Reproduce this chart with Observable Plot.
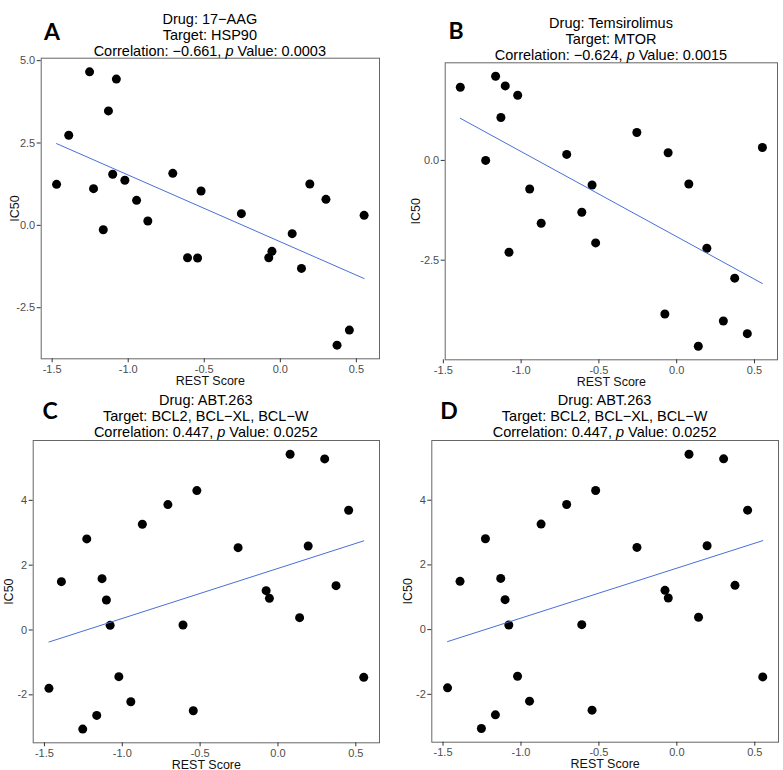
<!DOCTYPE html>
<html>
<head>
<meta charset="utf-8">
<script src="https://cdn.jsdelivr.net/npm/d3@7"></script>
<script src="https://cdn.jsdelivr.net/npm/@observablehq/plot@0.6"></script>
<style>
  html, body { margin: 0; padding: 0; background: #fff; }
  #root { position: relative; width: 783px; height: 770px; overflow: hidden; background: #fff; font-family: "Liberation Sans", Arial, sans-serif; }
  .title { position: absolute; width: 420px; text-align: center; font-size: 14.5px; line-height: 16px; color: #000; white-space: nowrap; }
  .letter { position: absolute; font-family: Lato, "Open Sans", sans-serif; font-weight: 700; font-size: 23px; line-height: 23px; color: #000; transform: translate(-50%, -50%); }
  .panel { position: absolute; }
</style>
</head>
<body>
<div id="root"></div>
<script>
// REST score of each cell line (shared x values)
const restScore = [-1.471, -1.391, -1.254, -1.228, -1.164, -1.130, -1.102, -1.078, -1.022, -0.945,
  -0.871, -0.707, -0.610, -0.544, -0.521, -0.256, -0.076, -0.055, 0.078, 0.139,
  0.194, 0.300, 0.373, 0.454, 0.551];

// IC50 values per drug (null = cell line not tested)
const ic50_17AAG = [1.246, 2.736, 4.66, 1.114, -0.132, 3.475, 1.55, 4.44, 1.368, 0.76,
  0.132, 1.58, -0.983, -0.993, 1.044, 0.355, -0.983, -0.79, -0.253, -1.307,
  1.256, 0.79, -3.637, -3.18, 0.304];
const ic50_Temsirolimus = [null, 1.833, null, 0.0, 2.108, 1.075, 1.867, -2.3, 1.633, -0.717,
  -1.575, 0.15, -1.3, -0.617, -2.067, 0.7, -3.85, 0.192, -0.592, -4.658,
  -2.2, -4.025, -2.95, -4.342, 0.325];
const ic50_ABT263 = [-1.80, 1.492, -3.056, 2.809, -2.634, 1.584, 0.926, 0.144, -1.44, -2.212,
  3.261, 3.868, 0.154, -2.49, 4.30, 2.541, 1.214, 0.977, 5.422, 0.381,
  2.593, 5.278, 1.368, 3.693, -1.461];

// Panel texts
const panelLetters = ["A", "B", "C", "D"];
const drugs = ["17\u2212AAG", "Temsirolimus", "ABT.263", "ABT.263"];
const targets = ["HSP90", "MTOR", "BCL2, BCL\u2212XL, BCL\u2212W", "BCL2, BCL\u2212XL, BCL\u2212W"];
const correlations = ["\u22120.661", "\u22120.624", "0.447", "0.447"];
const pValues = ["0.0003", "0.0015", "0.0252", "0.0252"];
const seriesList = [ic50_17AAG, ic50_Temsirolimus, ic50_ABT263, ic50_ABT263];

// Tick labels
const xTicks = [-1.5, -1.0, -0.5, 0.0, 0.5];
const yTicksA = [-2.5, 0.0, 2.5, 5.0];
const yTicksB = [-2.5, 0.0];
const yTicksC = [-2, 0, 2, 4];
const yTicksList = [yTicksA, yTicksB, yTicksC, yTicksC];
const yDecimals = [1, 1, 0, 0];

// Layout (page pixels)
const layout = [
  {left: 0,   width: 392, top: 54,  bottom: 388, mL: 40.7, mR: 13, mT: 3.7, mB: 29.7, xLab: 26,   yLab: 31,   letter: [52, 31],   title: [209.8, 10.5]},
  {left: 392, width: 391, top: 58,  bottom: 388, mL: 52.7, mR: 6,  mT: 4.3, mB: 28.7, xLab: 25.7, yLab: 34,   letter: [456, 30], title: [611, 15]},
  {left: 0,   width: 392, top: 436, bottom: 770, mL: 32.7, mR: 13, mT: 4,   mB: 27.7, xLab: 25.7, yLab: 28.7, letter: [50, 410],  title: [205.8, 392]},
  {left: 392, width: 391, top: 436, bottom: 770, mL: 39.3, mR: 5,  mT: 4,   mB: 28.3, xLab: 25.5, yLab: 28.6, letter: [449, 409.5], title: [604.6, 392]}
];

const root = document.getElementById("root");

seriesList.forEach((series, k) => {
  const L = layout[k];
  const data = restScore.map((x, i) => ({x, y: series[i]})).filter(d => d.y != null);
  const [x0, x1] = d3.extent(data, d => d.x);
  const [y0, y1] = d3.extent(data, d => d.y);
  const ex = (x1 - x0) * 0.05, ey = (y1 - y0) * 0.05;
  const dec = yDecimals[k];

  const chart = Plot.plot({
    width: L.width,
    height: L.bottom - L.top,
    marginLeft: L.mL, marginRight: L.mR, marginTop: L.mT, marginBottom: L.mB,
    x: {domain: [x0 - ex, x1 + ex]},
    y: {domain: [y0 - ey, y1 + ey]},
    style: {fontFamily: "'Liberation Sans', Arial, sans-serif", background: "white", overflow: "visible"},
    marks: [
      Plot.frame({stroke: "#666", strokeWidth: 1}),
      Plot.axisX({ticks: xTicks, tickSize: 4, tickPadding: 2, tickFormat: d => d.toFixed(1), fontSize: 11, fill: "#4d4d4d", stroke: "#333", label: null}),
      Plot.axisX({ticks: [], tickSize: 0, label: "REST Score", labelAnchor: "center", labelArrow: "none", labelOffset: L.xLab, fontSize: 12.5, fill: "#111"}),
      Plot.axisY({ticks: yTicksList[k], tickSize: 4, tickPadding: 2, tickFormat: d => d.toFixed(dec), fontSize: 11, fill: "#4d4d4d", stroke: "#333", label: null}),
      Plot.axisY({ticks: [], tickSize: 0, label: "IC50", labelAnchor: "center", labelArrow: "none", labelOffset: L.yLab, fontSize: 12.5, fill: "#111"}),
      Plot.dot(data, {x: "x", y: "y", r: 4.5, fill: "#000", stroke: "none"}),
      Plot.linearRegressionY(data, {x: "x", y: "y", stroke: "#4a6fd8", strokeWidth: 1, ci: 0})
    ]
  });

  const wrap = document.createElement("div");
  wrap.className = "panel";
  wrap.style.left = L.left + "px";
  wrap.style.top = L.top + "px";
  wrap.appendChild(chart);
  root.appendChild(wrap);

  const t = document.createElement("div");
  t.className = "title";
  t.style.left = (L.title[0] - 210) + "px";
  t.style.top = L.title[1] + "px";
  t.innerHTML = "Drug: " + drugs[k] + "<br>Target: " + targets[k] +
    "<br>Correlation: " + correlations[k] + ", <i>p</i> Value: " + pValues[k];
  root.appendChild(t);

  const lt = document.createElement("div");
  lt.className = "letter";
  lt.style.left = L.letter[0] + "px";
  lt.style.top = L.letter[1] + "px";
  lt.textContent = panelLetters[k];
  root.appendChild(lt);
});
</script>
</body>
</html>
